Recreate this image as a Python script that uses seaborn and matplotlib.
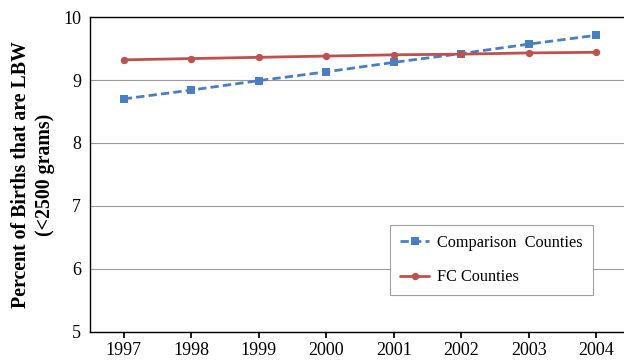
import matplotlib
matplotlib.use("Agg")
import matplotlib.pyplot as plt
import seaborn as sns
import pandas as pd

years = ["1997", "1998", "1999", "2000", "2001", "2002", "2003", "2004"]
comparison = [8.70, 8.84, 8.99, 9.13, 9.28, 9.42, 9.57, 9.71]
fc = [9.32, 9.34, 9.36, 9.38, 9.40, 9.41, 9.43, 9.44]
series_names = ["Comparison  Counties", "FC Counties"]

sns.set_theme(style="white")
plt.rcParams['font.family'] = ['Liberation Serif', 'DejaVu Serif']

df = pd.DataFrame({
    "year": years * 2,
    "idx": list(range(len(years))) * 2,
    "value": comparison + fc,
    "series": [series_names[0]] * len(years) + [series_names[1]] * len(years),
})

fig = plt.figure(figsize=(6.24, 3.62), dpi=100)
ax = fig.add_axes([0.1442, 0.083, 0.8558 + 0.01, 0.87])

palette = {series_names[0]: "#4A7EC2", series_names[1]: "#C0504D"}
sns.lineplot(data=df, x="idx", y="value", hue="series", style="series",
             palette=palette, markers={series_names[0]: "s", series_names[1]: "o"},
             dashes={series_names[0]: (3, 1.5), series_names[1]: ""},
             markersize=5.3, linewidth=2, markeredgewidth=0, ax=ax)

ax.set_xlim(-0.5, 7.5)
ax.set_ylim(5, 10)
ax.set_xticks(range(len(years)))
ax.set_xticklabels(years)
ax.set_yticks([5, 6, 7, 8, 9, 10])
ax.tick_params(axis="x", labelsize=13, length=4, direction="out", color="black",
               bottom=True, pad=3)
ax.tick_params(axis="y", labelsize=13, length=0, left=False, pad=6.5)
for lab in ax.get_xticklabels() + ax.get_yticklabels():
    lab.set_color("black")

ax.grid(axis="y", color="#9A9A9A", linewidth=0.8)
ax.grid(axis="x", visible=False)
for s in ["left", "top", "bottom"]:
    ax.spines[s].set_color("black")
    ax.spines[s].set_linewidth(1.0)
ax.spines["right"].set_visible(False)

ax.set_xlabel("")
ax.set_ylabel("Percent of Births that are LBW\n(<2500 grams)", fontsize=14.3,
              fontweight="bold", color="black", linespacing=1.25)
ax.yaxis.set_label_coords(-0.065, 0.5)

leg = ax.legend(loc="lower left", bbox_to_anchor=(0.556, 0.117), fontsize=11.7,
                frameon=True, fancybox=False, edgecolor="#A0A0A0", framealpha=1,
                handlelength=1.8, borderpad=0.6, labelspacing=1.15, handletextpad=0.5,
                borderaxespad=0)
leg.get_frame().set_linewidth(0.8)
for t in leg.get_texts():
    t.set_color("black")

fig.savefig("out.png", dpi=100)
